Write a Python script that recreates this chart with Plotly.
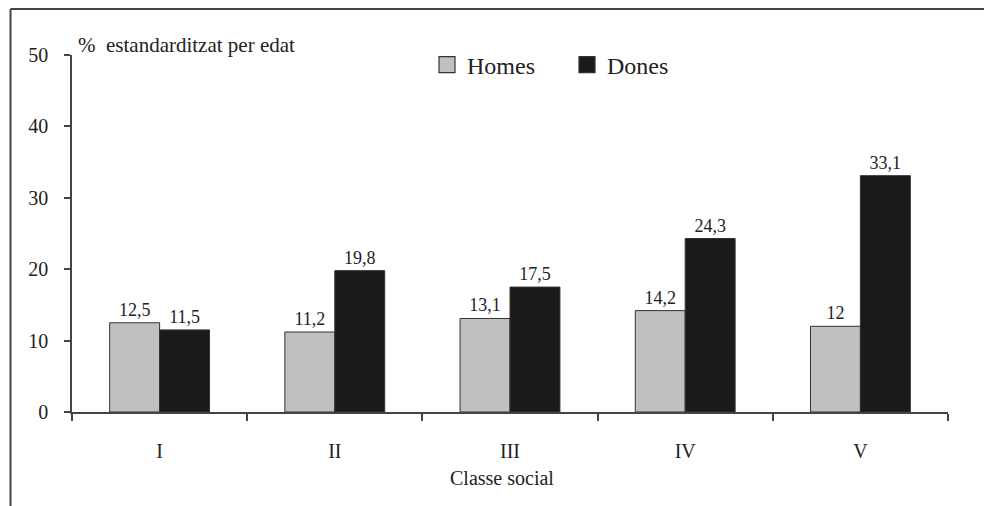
import plotly.graph_objects as go

# Data: age-standardised percentage by social class and sex
classes = ["I", "II", "III", "IV", "V"]
homes = [12.5, 11.2, 13.1, 14.2, 12.0]
dones = [11.5, 19.8, 17.5, 24.3, 33.1]
y_ticks = [0, 10, 20, 30, 40, 50]

SERIF = "Liberation Serif, DejaVu Serif, Times New Roman, serif"
INK = "#222222"
AXIS = "#444444"
OUTLINE = "#333333"
GREY = "#c0c0c0"
BLACK = "#1a1a1a"

W, H = 984, 506
L, R, T, B = 72, 36, 55, 94
PW, PH = W - L - R, H - T - B


def px_x(px):
    return (px - L) / PW


def px_y(py):
    return (H - B - py) / PH


def fmt(v):
    return f"{v:g}".replace(".", ",")


fig = go.Figure()
for name, vals, col in (("Homes", homes, GREY), ("Dones", dones, BLACK)):
    fig.add_trace(go.Bar(
        name=name, x=classes, y=vals, showlegend=False,
        marker=dict(color=col, line=dict(color=OUTLINE, width=1)),
        text=[fmt(v) for v in vals], textposition="outside",
        textfont=dict(family=SERIF, size=18, color=INK), cliponaxis=False,
    ))

# legend entries with larger square swatches
for name, col in (("Homes", GREY), ("Dones", BLACK)):
    fig.add_trace(go.Scatter(
        name=name, x=[None], y=[None], mode="markers",
        marker=dict(symbol="square", size=16, color=col,
                    line=dict(color=OUTLINE, width=1.2)),
    ))

fig.update_layout(
    width=W, height=H,
    margin=dict(l=L, r=R, t=T, b=B),
    paper_bgcolor="white", plot_bgcolor="white",
    barmode="group", bargap=0.43, bargroupgap=0,
    font=dict(family=SERIF, color=INK),
    showlegend=True,
    legend=dict(
        orientation="h", x=px_x(427), y=px_y(65), xanchor="left", yanchor="middle",
        font=dict(family=SERIF, size=24, color=INK),
        entrywidth=95, entrywidthmode="pixels",
        bgcolor="rgba(0,0,0,0)",
    ),
    xaxis=dict(
        showline=True, linecolor=AXIS, linewidth=1.5,
        ticks="outside", tickson="boundaries", ticklen=7, tickcolor=AXIS, tickwidth=1.5,
        tickfont=dict(family=SERIF, size=20, color=INK),
        ticklabelstandoff=20,
        showgrid=False, zeroline=False,
    ),
    yaxis=dict(
        range=[0, 50], tickvals=y_ticks,
        showline=True, linecolor=AXIS, linewidth=1.5,
        ticks="outside", ticklen=6, tickcolor=AXIS, tickwidth=1.5,
        tickfont=dict(family=SERIF, size=20, color=INK),
        ticklabelstandoff=12,
        showgrid=False, zeroline=False,
    ),
    annotations=[
        dict(text="% &nbsp;estandarditzat per edat", xref="paper", yref="paper",
             x=px_x(76), y=px_y(45), xanchor="left", yanchor="middle",
             showarrow=False, font=dict(family=SERIF, size=21, color=INK)),
        dict(text="Classe social", xref="paper", yref="paper",
             x=px_x(502), y=px_y(478), xanchor="center", yanchor="middle",
             showarrow=False, font=dict(family=SERIF, size=20, color=INK)),
    ],
    shapes=[
        # frame: top and left edges
        dict(type="line", xref="paper", yref="paper",
             x0=px_x(10.5), x1=px_x(W + 5), y0=px_y(9), y1=px_y(9),
             line=dict(color="#444444", width=2)),
        dict(type="line", xref="paper", yref="paper",
             x0=px_x(10.5), x1=px_x(10.5), y0=px_y(9), y1=px_y(H + 5),
             line=dict(color="#444444", width=2)),
    ],
)

fig.write_html("out.html")
